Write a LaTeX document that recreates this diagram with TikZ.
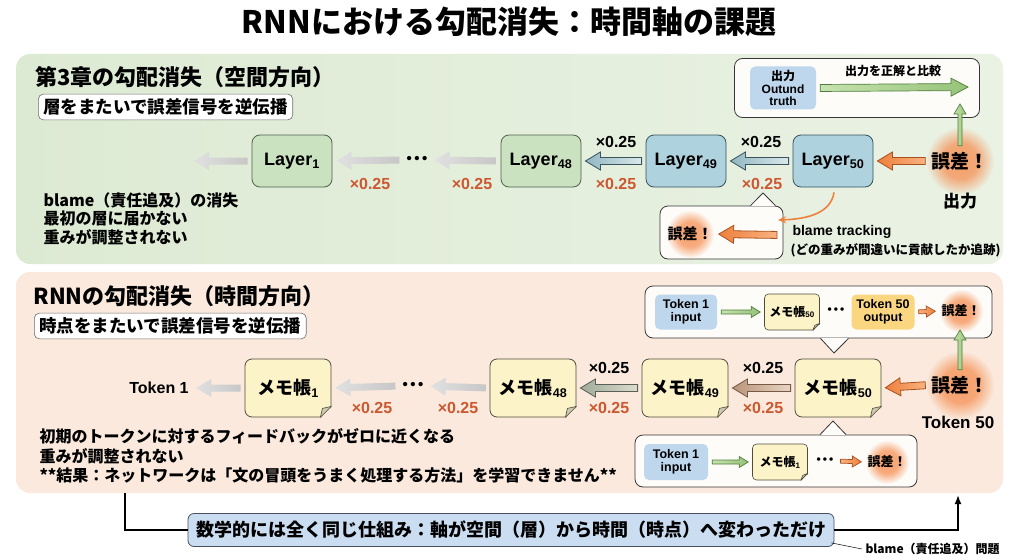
\documentclass[tikz,border=0pt]{standalone}
\usepackage{fontspec}
\setmainfont{Noto Sans CJK JP}
\newfontfamily\lat{Liberation Sans}
\usetikzlibrary{calc,fadings,arrows.meta}

\newcommand\fsz[1]{\fontsize{#1}{#1}\selectfont}

\definecolor{greenbgL}{RGB}{221,234,211}
\definecolor{greenbgR}{RGB}{234,242,228}
\definecolor{peachbg}{RGB}{250,233,220}
\definecolor{laygfill}{RGB}{203,226,193}
\definecolor{laygline}{RGB}{78,98,78}
\definecolor{laybfill}{RGB}{174,211,222}
\definecolor{laybline}{RGB}{55,82,92}
\definecolor{memofill}{RGB}{253,243,200}
\definecolor{memoline}{RGB}{78,76,60}
\definecolor{memofold}{RGB}{205,200,175}
\definecolor{mulred}{RGB}{204,88,48}
\definecolor{glowc}{RGB}{246,145,85}
\definecolor{calline}{RGB}{55,55,55}
\definecolor{calfill}{RGB}{253,252,249}
\definecolor{tokblue}{RGB}{190,215,237}
\definecolor{tokyel}{RGB}{250,214,128}
\definecolor{sumfill}{RGB}{203,221,241}
\definecolor{sumline}{RGB}{70,80,95}
\definecolor{subline}{RGB}{110,110,110}
\definecolor{orA}{RGB}{238,128,62}
\definecolor{orB}{RGB}{249,178,128}
\definecolor{orL}{RGB}{170,80,30}
\definecolor{blA}{RGB}{145,182,194}
\definecolor{blB}{RGB}{218,232,234}
\definecolor{blL}{RGB}{58,84,94}
\definecolor{grA}{RGB}{160,170,155}
\definecolor{grB}{RGB}{220,220,205}
\definecolor{grL}{RGB}{90,96,85}
\definecolor{tnA}{RGB}{185,148,122}
\definecolor{tnB}{RGB}{232,212,196}
\definecolor{tnL}{RGB}{118,90,70}
\definecolor{gnA}{RGB}{150,195,120}
\definecolor{gnB}{RGB}{198,226,175}
\definecolor{gnL}{RGB}{80,125,60}

% soft glow: nearly solid centre, fading edge
\pgfdeclareradialshading{glowshade}{\pgfpointorigin}{color(0bp)=(pgftransparent!15); color(13bp)=(pgftransparent!25); color(25bp)=(pgftransparent!100); color(50bp)=(pgftransparent!100)}
\pgfdeclarefading{glowfade}{\pgfuseshading{glowshade}}

\tikzset{
  panel/.style={rounded corners=14pt, inner sep=0pt, draw=none},
  subbox/.style={draw=subline, fill=white, rounded corners=5pt, line width=0.6pt,
    inner xsep=5pt, inner ysep=4.5pt, font=\bfseries\fsz{17.5}},
  layG/.style={draw=laygline, fill=laygfill, rounded corners=8pt, line width=0.8pt,
    minimum width=80pt, minimum height=52pt, font=\lat\bfseries\fsz{18}},
  layB/.style={layG, draw=laybline, fill=laybfill},
  memo/.style={draw=memoline, fill=memofill, rounded corners=7pt, line width=0.8pt,
    minimum width=86pt, minimum height=58pt, font=\bfseries\fsz{18}},
  memoS/.style={memo, rounded corners=4pt, line width=0.6pt, minimum width=55pt,
    minimum height=36pt, font=\bfseries\fsz{12}},
  mulK/.style={font=\lat\bfseries\fsz{16}},
  mulR/.style={mulK, text=mulred},
  dotsN/.style={font=\lat\bfseries\fsz{15}, inner sep=3pt},
  errN/.style={font=\bfseries\fsz{19}, inner sep=2pt},
  errS/.style={font=\bfseries\fsz{13}, inner sep=2pt},
  callbox/.style={draw=calline, fill=calfill, rounded corners=8pt, line width=0.8pt},
  tokN/.style={fill=tokblue, rounded corners=5pt, minimum width=62pt, minimum height=35pt,
    inner sep=1pt, align=center, font=\lat\bfseries\fontsize{12.5}{13.5}\selectfont},
  fadeA/.style={left color=black!12, right color=black!22},
  blueA/.style={left color=blA, right color=blB, draw=blL, line width=0.8pt},
  grayA/.style={left color=grA, right color=grB, draw=grL, line width=0.8pt},
  tanA/.style={left color=tnA, right color=tnB, draw=tnL, line width=0.8pt},
  orangeA/.style={left color=orA, right color=orB, draw=orL, line width=0.8pt},
  orangeR/.style={left color=orB, right color=orA, draw=orL, line width=0.7pt},
  greenA/.style={left color=gnB, right color=gnA, draw=gnL, line width=0.7pt},
}

% block arrow: style, from, to, shaft half, head half, head length
\newcommand\blockarrow[6]{%
  \coordinate (ba-a) at ($(#2)!4pt!(#3)$);
  \coordinate (ba-b) at ($(#3)!4pt!(#2)$);
  \coordinate (ba-n) at ($(ba-b)!#6!(ba-a)$);
  \path[#1] ($(ba-a)!#4!90:(ba-b)$) -- ($(ba-n)!#4!90:(ba-b)$) -- ($(ba-n)!#5!90:(ba-b)$)
    -- (ba-b) -- ($(ba-n)!#5!-90:(ba-b)$) -- ($(ba-n)!#4!-90:(ba-b)$)
    -- ($(ba-a)!#4!-90:(ba-b)$) -- cycle;}
% orange glow behind an error label
\newcommand\glow[2]{\fill[glowc, path fading=glowfade] (#1) circle (#2);}
% folded corner of a memo: node, size, background
\newcommand\memofold[3]{%
  \fill[#3] ($(#1.south east)+(-#2,1)$) -- ($(#1.south east)+(1,1)$) -- ($(#1.south east)+(1,-#2)$) -- cycle;
  \filldraw[fill=memofold, draw=memoline, line width=0.6pt, line join=round]
    ($(#1.south east)+(-#2,0)$) -- ($(#1.south east)+(0,-#2)$) -- ($(#1.south east)+(-#2+2,-#2+2)$) -- cycle;}

\begin{document}
\begin{tikzpicture}[x=1pt,y=-1pt]
\useasboundingbox (0,0) rectangle (1024,559);
\fill[white] (0,0) rectangle (1024,559);

\node[font=\bfseries\fsz{31}] (title) at (509,22) {RNNにおける勾配消失：時間軸の課題};

% panels
\node[panel, left color=greenbgL, right color=greenbgR, minimum width=987pt, minimum height=210pt] (topP) at (509.5,159) {};
\node[panel, fill=peachbg, minimum width=987pt, minimum height=221pt] (botP) at (509.5,382.5) {};

%% spatial direction
\node[anchor=west, font=\bfseries\fsz{22}] (h1) at (32,77) {第3章の勾配消失（空間方向）};
\node[subbox, anchor=west] (s1) at (38,107) {層をまたいで誤差信号を逆伝播};

\node[layG] (L1) at (292,161) {Layer\textsubscript{1}};
\node[layG] (L48) at (541,161) {Layer\textsubscript{48}};
\node[layB] (L49) at (686,161) {Layer\textsubscript{49}};
\node[layB] (L50) at (833,161) {Layer\textsubscript{50}};
\node[dotsN] (d1) at (417,160) {•\,•\,•};
\coordinate (e0) at (190,161);

\glow{960,161}{34pt}
\node[errN] (err1) at (960,161) {誤差！};
\node[font=\bfseries\fsz{17}] (out1) at (960,201) {出力};

\blockarrow{fadeA}{L1.west}{e0}{3.5pt}{9pt}{15pt}
\blockarrow{fadeA}{d1.west}{L1.east}{3.5pt}{9pt}{15pt}
\blockarrow{fadeA}{L48.west}{d1.east}{3.5pt}{9pt}{15pt}
\blockarrow{blueA}{L49.west}{L48.east}{3.5pt}{9pt}{15pt}
\blockarrow{blueA}{L50.west}{L49.east}{3.5pt}{9pt}{15pt}
\blockarrow{orangeA}{err1.west}{L50.east}{3.5pt}{9pt}{15pt}

\node[mulK] (m1) at (616,142) {×0.25};
\node[mulK] (m2) at (761,142) {×0.25};
\node[mulR] (m3) at (370,184) {×0.25};
\node[mulR] (m4) at (472,184) {×0.25};
\node[mulR] (m5) at (616,184) {×0.25};
\node[mulR] (m6) at (762,184) {×0.25};

\node[anchor=north west, align=left, font=\bfseries\fontsize{16}{18.5}\selectfont] (t1) at (40,189)
  {blame（責任追及）の消失\\最初の層に届かない\\重みが調整されない};

% compare with ground truth
\node[callbox, minimum width=245pt, minimum height=59pt] (cmp) at (857,88) {};
\node[tokN, minimum width=66pt, minimum height=43pt, font=\bfseries\fontsize{12}{12.5}\selectfont] (gt) at (783,88)
  {出力\\{\lat Outund}\\{\lat truth}};
\coordinate (cmpT) at (972,87);
\blockarrow{greenA}{gt.east}{cmpT}{3.5pt}{9pt}{17pt}
\node[font=\bfseries\fsz{12}] (cmpL) at (893,71) {出力を正解と比較};
\coordinate (up1) at (960,100);
\blockarrow{greenA}{err1.north}{up1}{2pt}{6pt}{10pt}

% blame tracking
\node[callbox, minimum width=123pt, minimum height=53pt] (bl) at (721.5,232.5) {};
\coordinate (blP) at (763,193);
\filldraw[fill=calfill, draw=calline, line width=0.8pt, line join=round]
  ($(bl.north)+(29,0)$) -- (blP) -- ($(bl.north)+(54,0)$);
\draw[calfill, line width=1.6pt] ($(bl.north)+(30.5,0)$) -- ($(bl.north)+(52.5,0)$);
\glow{690,234}{24pt}
\node[font=\bfseries\fsz{15}, inner sep=2pt] (err2) at (690,234) {誤差！};
\coordinate (blS) at (781,235);
\blockarrow{orangeA}{blS}{err2.east}{3.5pt}{9pt}{15pt}
\draw[orA, line width=1.6pt, -{Stealth[length=8pt,width=7pt]}]
  ($(L50.south)+(1,5)$) .. controls (831,212) and (810,219) .. (778,220);
\node[anchor=west, font=\lat\bfseries\fsz{14}] (bt1) at (789,232) {blame tracking};
\node[anchor=west, font=\bfseries\fsz{12.5}] (bt2) at (787,250) {(どの重みが間違いに貢献したか追跡)};

%% temporal direction
\node[anchor=west, font=\bfseries\fsz{22}] (h2) at (30,296) {RNNの勾配消失（時間方向）};
\node[subbox, anchor=west] (s2) at (34,326) {時点をまたいで誤差信号を逆伝播};

\node[memo] (M1) at (288,388) {メモ帳\textsubscript{\lat 1}};
\node[memo] (M48) at (533,388) {メモ帳\textsubscript{\lat 48}};
\node[memo] (M49) at (685,388) {メモ帳\textsubscript{\lat 49}};
\node[memo] (M50) at (838,388) {メモ帳\textsubscript{\lat 50}};
\memofold{M1}{11}{peachbg}
\memofold{M48}{11}{peachbg}
\memofold{M49}{11}{peachbg}
\memofold{M50}{11}{peachbg}
\node[font=\lat\bfseries\fsz{16}] (tk1) at (159,388) {Token 1};
\node[dotsN] (d2) at (413,386) {•\,•\,•};

\glow{960,385}{34pt}
\node[errN] (err3) at (960,385) {誤差！};
\node[font=\lat\bfseries\fsz{17}] (tk50) at (958,422) {Token 50};

\blockarrow{fadeA}{M1.west}{tk1.east}{3.5pt}{9pt}{15pt}
\blockarrow{fadeA}{d2.west}{M1.east}{3.5pt}{9pt}{15pt}
\blockarrow{fadeA}{M48.west}{d2.east}{3.5pt}{9pt}{15pt}
\blockarrow{grayA}{M49.west}{M48.east}{3.5pt}{9pt}{15pt}
\blockarrow{tanA}{M50.west}{M49.east}{3.5pt}{9pt}{15pt}
\blockarrow{orangeA}{err3.west}{M50.east}{3.5pt}{9pt}{15pt}

\node[mulK] (n1) at (609,368) {×0.25};
\node[mulK] (n2) at (763,368) {×0.25};
\node[mulR] (n3) at (372,408) {×0.25};
\node[mulR] (n4) at (458,408) {×0.25};
\node[mulR] (n5) at (609,408) {×0.25};
\node[mulR] (n6) at (763,408) {×0.25};

\node[anchor=north west, align=left, font=\bfseries\fontsize{16}{19.5}\selectfont] (t2) at (36,425)
  {初期のトークンに対するフィードバックがゼロに近くなる\\重みが調整されない\\**結果：ネットワークは「文の冒頭をうまく処理する方法」を学習できません**};

% callout: token 50
\node[callbox, minimum width=347pt, minimum height=52pt] (cA) at (818.5,312) {};
\coordinate (cAp) at (834,353);
\filldraw[fill=calfill, draw=calline, line width=0.8pt, line join=round]
  ($(cA.south)+(2,0)$) -- (cAp) -- ($(cA.south)+(30,0)$);
\draw[calfill, line width=1.6pt] ($(cA.south)+(3.5,0)$) -- ($(cA.south)+(28.5,0)$);
\node[tokN] (tA) at (686,312) {Token 1\\input};
\node[memoS] (mA) at (792,312) {メモ帳\textsubscript{\lat 50}};
\memofold{mA}{7}{calfill}
\node[dotsN, font=\lat\bfseries\fsz{12}] (dA) at (836,311) {•\,•\,•};
\node[tokN, fill=tokyel, minimum width=63pt] (tA50) at (883,312) {Token 50\\output};
\glow{961,311}{22pt}
\node[errS] (eA) at (961,311) {誤差！};
\blockarrow{greenA}{tA.east}{mA.west}{2pt}{5.5pt}{9pt}
\blockarrow{orangeR}{tA50.east}{eA.west}{2pt}{5.5pt}{9pt}
\coordinate (up2) at (960,326);
\blockarrow{greenA}{err3.north}{up2}{2pt}{6pt}{10pt}

% callout: token 1
\node[callbox, minimum width=282pt, minimum height=52pt] (cB) at (776,461) {};
\coordinate (cBp) at (833,421);
\filldraw[fill=calfill, draw=calline, line width=0.8pt, line join=round]
  ($(cB.north)+(44,0)$) -- (cBp) -- ($(cB.north)+(70,0)$);
\draw[calfill, line width=1.6pt] ($(cB.north)+(45.5,0)$) -- ($(cB.north)+(68.5,0)$);
\node[tokN, minimum width=64pt, minimum height=36pt] (tB) at (676,462) {Token 1\\input};
\node[memoS] (mB) at (780,462) {メモ帳\textsubscript{\lat 1}};
\memofold{mB}{7}{calfill}
\node[dotsN, font=\lat\bfseries\fsz{12}] (dB) at (825,461) {•\,•\,•};
\glow{887,462}{22pt}
\node[errS] (eB) at (887,462) {誤差！};
\blockarrow{greenA}{tB.east}{mB.west}{2pt}{5.5pt}{9pt}
\blockarrow{orangeR}{dB.east}{eB.west}{2pt}{5.5pt}{9pt}

%% summary
\node[draw=sumline, fill=sumfill, rounded corners=6pt, line width=0.8pt, inner xsep=8pt,
  minimum height=33pt, font=\bfseries\fsz{18}] (sum) at (511,530)
  {数学的には全く同じ仕組み：軸が空間（層）から時間（時点）へ変わっただけ};
\coordinate (lnL) at (125,0);
\coordinate (lnR) at (958,0);
\draw[line width=1.2pt] (botP.south -| lnL) |- (sum.west);
\draw[line width=1.2pt, -{Latex[length=9pt,width=7pt]}, shorten >=2pt] (sum.east) -| (botP.south -| lnR);
\node[anchor=west, font=\bfseries\fsz{12}] (bp) at (862,549) {blame（責任追及）問題};
\draw[line width=0.5pt] ($(sum.south east)+(-3,-4)$) -- (bp.west);
\end{tikzpicture}
\end{document}
